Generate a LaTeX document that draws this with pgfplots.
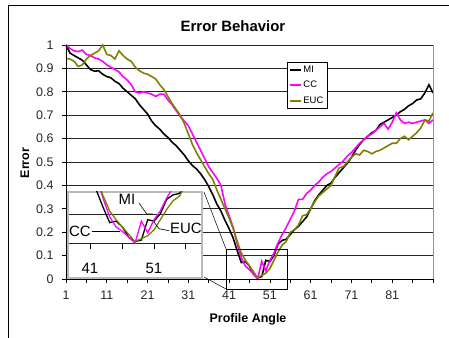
\documentclass[border=0pt]{standalone}
\usepackage{pgfplots}
\pgfplotsset{compat=1.18}
\usepackage{pgfplotstable}
\usepackage{fontspec}
\setmainfont{Liberation Sans}
\definecolor{ccmag}{RGB}{255,0,255}
\definecolor{eucol}{RGB}{128,128,0}

\pgfplotstableread{
a mi cc euc
1 1.000 1.000 0.943
2 0.965 0.985 0.940
3 0.955 0.975 0.930
4 0.945 0.972 0.908
5 0.935 0.978 0.915
6 0.915 0.960 0.940
7 0.895 0.955 0.955
8 0.888 0.945 0.965
9 0.890 0.940 0.975
10 0.875 0.930 1.000
11 0.865 0.915 0.960
12 0.860 0.905 0.955
13 0.845 0.895 0.940
14 0.835 0.885 0.975
15 0.815 0.865 0.955
16 0.800 0.850 0.940
17 0.785 0.830 0.930
18 0.770 0.800 0.905
19 0.745 0.795 0.890
20 0.725 0.800 0.880
21 0.705 0.795 0.875
22 0.675 0.790 0.865
23 0.655 0.780 0.855
24 0.640 0.790 0.830
25 0.620 0.790 0.810
26 0.605 0.765 0.780
27 0.585 0.745 0.750
28 0.570 0.720 0.725
29 0.550 0.695 0.700
30 0.530 0.675 0.665
31 0.505 0.655 0.620
32 0.485 0.620 0.575
33 0.470 0.585 0.540
34 0.450 0.550 0.510
35 0.425 0.515 0.480
36 0.395 0.480 0.450
37 0.360 0.455 0.425
38 0.320 0.430 0.380
39 0.290 0.400 0.340
40 0.250 0.320 0.300
41 0.215 0.270 0.260
42 0.175 0.220 0.215
43 0.120 0.150 0.160
44 0.070 0.090 0.110
45 0.075 0.055 0.080
46 0.055 0.040 0.055
47 0.020 0.020 0.030
48 0.005 0.000 0.005
49 0.010 0.075 0.015
50 0.080 0.035 0.025
51 0.075 0.080 0.045
52 0.100 0.110 0.080
53 0.150 0.155 0.115
54 0.165 0.190 0.145
55 0.170 0.220 0.160
56 0.190 0.255 0.200
57 0.210 0.290 0.210
58 0.225 0.340 0.230
59 0.245 0.340 0.270
60 0.265 0.365 0.275
61 0.300 0.380 0.300
62 0.335 0.400 0.330
63 0.360 0.415 0.355
64 0.380 0.435 0.370
65 0.400 0.450 0.385
66 0.410 0.460 0.400
67 0.435 0.475 0.440
68 0.455 0.490 0.475
69 0.475 0.505 0.480
70 0.495 0.525 0.500
71 0.520 0.540 0.520
72 0.550 0.560 0.535
73 0.575 0.580 0.530
74 0.595 0.595 0.550
75 0.610 0.610 0.545
76 0.625 0.620 0.535
77 0.635 0.635 0.545
78 0.660 0.650 0.550
79 0.670 0.665 0.560
80 0.680 0.640 0.570
81 0.690 0.670 0.580
82 0.700 0.710 0.580
83 0.715 0.680 0.600
84 0.725 0.665 0.610
85 0.740 0.670 0.595
86 0.750 0.665 0.610
87 0.765 0.670 0.625
88 0.770 0.675 0.645
89 0.795 0.680 0.680
90 0.830 0.665 0.675
91 0.795 0.680 0.710
}\errdata

\begin{document}
\begin{tikzpicture}
\useasboundingbox (0,0) rectangle (449bp,338bp);
\fill[white] (0,0) rectangle (449bp,338bp);
\draw[black, line width=0.8bp] (8bp,-10bp) -- (8bp,333bp) -- (460bp,333bp);

\begin{axis}[
  at={(66bp,59bp)}, anchor=south west,
  scale only axis, width=367bp, height=234bp,
  xmin=1, xmax=91, ymin=0, ymax=1,
  clip=false,
  axis line style={draw=none},
  xtick={1,11,...,81}, minor xtick={6,16,...,86,91},
  ytick={0,0.1,0.2,0.3,0.4,0.5,0.6,0.7,0.8,0.9,1},
  yticklabels={0,0.1,0.2,0.3,0.4,0.5,0.6,0.7,0.8,0.9,1},
  ymajorgrids, grid style={black!85, line width=0.7bp},
  tick align=outside, tick pos=left,
  major tick length=4bp, minor tick length=4bp,
  every tick/.style={black, line width=0.7bp},
  ticklabel style={font=\fontsize{12.5}{14}\selectfont, text=black!85},
  /pgf/number format/assume math mode=true,
  yticklabel style={xshift=-5bp},
  xticklabel style={yshift=-4bp},
  legend style={at={(rel axis cs:0.602,0.927)}, anchor=north west,
    draw=black, fill=white,
    font=\fontsize{9.5}{11}\selectfont, inner sep=1.5bp, row sep=3.5bp,
    cells={anchor=west}},
  legend image code/.code={\draw[#1] (0bp,0bp) -- (11bp,0bp);},
  every legend image post/.style={line width=1.8bp},
]
\addplot[black, line width=1.6bp] table[x=a,y=mi] {\errdata};
\addlegendentry{MI}
\addplot[ccmag, line width=1.6bp] table[x=a,y=cc] {\errdata};
\addlegendentry{CC}
\addplot[eucol, line width=1.6bp] table[x=a,y=euc] {\errdata};
\addlegendentry{EUC}
\draw[gray!80, line width=0.8bp] (rel axis cs:1,0) -- (rel axis cs:1,1);
\draw[black, line width=0.8bp] (rel axis cs:0,1) -- (rel axis cs:0,0) -- (rel axis cs:1,0);
\end{axis}

% zoom box and connectors
\draw[black, line width=0.6bp] (226bp,89bp) rectangle (287bp,49bp);
\draw[black, line width=0.5bp] (204bp,146bp) -- (226bp,89bp);
\draw[black, line width=0.5bp] (204bp,61bp) -- (226bp,49bp);

% inset
\begin{axis}[
  at={(68bp,60bp)}, anchor=south west,
  scale only axis, width=134bp, height=86bp,
  xmin=37.41, xmax=58.58, ymin=-0.12, ymax=0.175,
  axis background/.style={fill=white},
  axis line style={draw=gray!55, line width=1.6bp},
  xtick=\empty, ytick={0,0.1}, yticklabels={},
  major tick length=0pt,
  ymajorgrids, grid style={black!85, line width=0.7bp},
]
\addplot[black, line width=1.3bp] table[x=a,y=mi] {\errdata};
\addplot[ccmag, line width=1.3bp] table[x=a,y=cc] {\errdata};
\addplot[eucol, line width=1.3bp] table[x=a,y=euc] {\errdata};
\end{axis}
% inset tick marks on the zero line
\foreach \xx in {90.7,122.3,154,185.7} {
  \draw[black, line width=0.7bp] (\xx bp,95bp) -- (\xx bp,89bp);
}
\node[font=\fontsize{15}{17}\selectfont] at (90bp,70bp) {41};
\node[font=\fontsize{15}{17}\selectfont] at (154bp,70bp) {51};
% inset annotations
\node[font=\fontsize{15}{17}\selectfont, anchor=west, inner sep=0pt] at (69bp,106.5bp) {CC};
\draw[black, line width=0.6bp] (92bp,106.5bp) -- (120bp,106.5bp);
\node[font=\fontsize{15}{17}\selectfont, anchor=west, inner sep=0pt] at (118.5bp,138.5bp) {MI};
\draw[black, line width=0.6bp] (139bp,135bp) -- (146.7bp,124bp) -- (153bp,124bp);
\node[font=\fontsize{15}{17}\selectfont, anchor=west, inner sep=0pt] at (170bp,109.5bp) {EUC};
\draw[black, line width=0.6bp] (169bp,107.3bp) -- (159bp,109.3bp) -- (154bp,116bp);

% titles
\node[font=\fontsize{15}{18}\selectfont\bfseries] at (233bp,312bp) {Error Behavior};
\node[font=\fontsize{12.5}{15}\selectfont\bfseries, rotate=90] at (25bp,175bp) {Error};
\node[font=\fontsize{12.5}{15}\selectfont\bfseries] at (248bp,19bp) {Profile Angle};
\end{tikzpicture}
\end{document}
